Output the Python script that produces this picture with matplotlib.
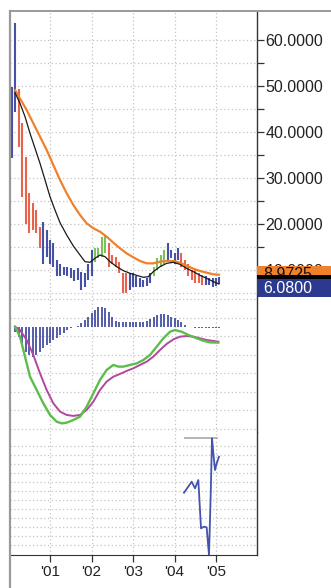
import matplotlib
matplotlib.use("Agg")
import matplotlib.pyplot as plt
import numpy as np
from matplotlib.patches import Rectangle
from matplotlib.lines import Line2D
from matplotlib.transforms import blended_transform_factory

plt.rcParams['font.family'] = ['Liberation Sans', 'DejaVu Sans']

# ---------------- data ----------------
# monthly bars Feb 2000 .. Feb 2005
bar_high = [49.7, 63.6, 49.3, 41.9, 34.6, 26.7, 24.5, 23.0, 19.4, 20.5,
            18.7, 16.5, 15.8, 12.2, 11.4, 10.7, 10.7, 10.4, 10.0, 10.4,
            9.6, 9.3, 11.4, 14.3, 14.7, 14.7, 17.2, 17.6, 15.8, 13.3,
            12.9, 11.8, 9.3, 9.3, 9.3, 9.3, 8.6, 8.2, 7.8, 8.2,
            9.3, 10.7, 12.5, 13.3, 14.3, 15.8, 14.3, 13.6, 14.7, 13.6,
            12.2, 11.4, 10.0, 10.0, 9.3, 8.9, 8.6, 8.2, 8.2, 8.2, 8.4]
bar_low = [34.3, 44.4, 36.8, 25.9, 20.1, 18.0, 18.7, 18.0, 14.7, 11.4,
           12.9, 11.4, 10.7, 8.6, 8.6, 8.9, 8.6, 8.2, 7.5, 7.8,
           5.7, 6.4, 7.8, 8.6, 11.8, 12.5, 12.9, 13.6, 10.7, 11.4,
           10.7, 9.3, 4.9, 4.9, 5.7, 6.4, 6.4, 6.4, 6.2, 6.5,
           7.1, 8.6, 10.0, 10.7, 11.4, 12.2, 12.5, 11.4, 12.2, 10.7,
           10.0, 8.6, 7.8, 7.1, 7.1, 6.7, 6.7, 6.7, 6.4, 6.5, 7.0]
bar_color = ("bb" + "r" * 7 + "b" * 15 + "g" * 4 + "r" * 6 + "b" * 7 +
             "g" * 4 + "b" * 4 + "r" * 7 + "b" * 5)
first_year, first_month = 2000, 2

black_x = [2000.157, 2000.277, 2000.398, 2000.518, 2000.639, 2000.759, 2000.880,
           2001.000, 2001.120, 2001.241, 2001.402, 2001.562, 2001.723, 2001.843,
           2001.964, 2002.084, 2002.205, 2002.325, 2002.446, 2002.606, 2002.767,
           2002.928, 2003.088, 2003.249, 2003.369, 2003.490, 2003.651, 2003.811,
           2003.972, 2004.133, 2004.293, 2004.454, 2004.614, 2004.775, 2004.936,
           2005.072]
black_y = [48.55, 46.23, 43.33, 39.71, 36.45, 33.19, 29.57, 25.94, 23.04, 20.29,
           17.61, 15.22, 13.26, 11.81, 11.67, 12.54, 13.26, 12.90, 11.81, 10.72,
           9.86, 9.28, 8.84, 8.41, 8.55, 9.64, 10.72, 11.45, 11.67, 11.23,
           10.36, 9.64, 8.84, 8.19, 7.46, 6.96]

orange_x = [2000.157, 2000.438, 2000.598, 2000.759, 2000.920, 2001.080, 2001.241,
            2001.402, 2001.562, 2001.723, 2001.884, 2002.044, 2002.205, 2002.365,
            2002.526, 2002.687, 2002.847, 2003.008, 2003.169, 2003.329, 2003.490,
            2003.651, 2003.811, 2003.972, 2004.133, 2004.293, 2004.454, 2004.614,
            2004.775, 2004.936, 2005.072]
orange_y = [49.13, 44.78, 41.88, 38.99, 36.09, 32.83, 29.57, 26.67, 24.13, 21.96,
            20.14, 19.06, 18.33, 17.25, 15.94, 14.71, 13.62, 12.75, 11.96, 11.45,
            11.45, 11.81, 11.96, 11.96, 11.59, 10.94, 10.29, 9.78, 9.42, 9.06, 8.9725]

last_close = 6.08

# MACD panel
macd_x = [2000.157, 2000.277, 2000.398, 2000.518, 2000.679, 2000.839, 2001.000,
          2001.161, 2001.281, 2001.402, 2001.562, 2001.723, 2001.884, 2002.044,
          2002.205, 2002.365, 2002.526, 2002.647, 2002.767, 2002.928, 2003.088,
          2003.249, 2003.410, 2003.570, 2003.731, 2003.892, 2004.012, 2004.173,
          2004.333, 2004.534, 2004.695, 2004.855, 2005.056]
macd_y = [0.00, -0.83, -2.50, -4.17, -5.28, -6.39, -7.36, -7.92, -8.06, -8.00,
          -7.78, -7.50, -6.67, -5.56, -4.44, -3.61, -3.19, -3.33, -3.33, -3.19,
          -3.06, -2.78, -2.36, -1.67, -0.97, -0.42, -0.28, -0.42, -0.69, -0.97,
          -1.17, -1.31, -1.33]
signal_x = [2000.157, 2000.277, 2000.438, 2000.598, 2000.759, 2000.920, 2001.080,
            2001.241, 2001.402, 2001.562, 2001.723, 2001.884, 2002.044, 2002.205,
            2002.365, 2002.526, 2002.687, 2002.847, 2003.008, 2003.169, 2003.329,
            2003.490, 2003.651, 2003.811, 2003.972, 2004.133, 2004.293, 2004.454,
            2004.614, 2004.775, 2004.936, 2005.056]
signal_y = [0.00, -0.28, -1.11, -2.36, -3.89, -5.28, -6.39, -7.08, -7.36, -7.44,
            -7.36, -6.94, -6.25, -5.28, -4.58, -4.17, -3.94, -3.69, -3.47, -3.19,
            -2.92, -2.50, -1.94, -1.44, -1.06, -0.83, -0.78, -0.83, -0.97, -1.11,
            -1.19, -1.25]
hist = [0, -0.42, -0.83, -1.39, -2.08, -2.36, -2.50, -2.36, -2.08, -1.81,
        -1.53, -1.39, -1.11, -0.97, -0.69, -0.50, -0.28, -0.14, 0, 0.06,
        0.28, 0.56, 0.83, 1.11, 1.39, 1.61, 1.67, 1.53, 1.25, 0.83,
        0.50, 0.42, 0.42, 0.36, 0.36, 0.36, 0.36, 0.36, 0.42, 0.50,
        0.61, 0.83, 0.97, 1.06, 1.06, 0.97, 0.83, 0.69, 0.56, 0.36,
        0.14, 0, -0.06, -0.14, -0.14, -0.14, -0.14, -0.14, -0.14, -0.14, -0.08]

# lower indicator panel
ind_x = [2004.229, 2004.414, 2004.494, 2004.574, 2004.639, 2004.711, 2004.775,
         2004.831, 2004.871, 2004.904, 2004.936, 2004.976, 2005.016, 2005.072]
ind_y = [6.81, 8.04, 7.30, 8.22, 2.85, 3.04, 2.96, -0.11, 6.37, 12.85, 11.19,
         9.33, 10.07, 10.81]
ind_max = 12.92
ind_max_span = (2004.229, 2005.056)

year_ticks = [2001, 2002, 2003, 2004, 2005]
year_labels = ["'01", "'02", "'03", "'04", "'05"]

# ---------------- styles ----------------
C_BLUE = '#4650a4'
C_RED = '#e8634d'
C_GREEN = '#7cc15e'
C_ORANGE = '#f0812c'
C_MAGENTA = '#b3479f'
C_MGREEN = '#5cbd4c'
GRID = dict(color='#c4c4c4', linestyle=(0, (1, 2)), linewidth=0.9)
cmap = {'b': C_BLUE, 'r': C_RED, 'g': C_GREEN}

W, H = 331, 588
fig = plt.figure(figsize=(W / 100, H / 100), dpi=100)
fig.patch.set_facecolor('white')

L, R = 10, 257
def add(top, bot):
    return fig.add_axes([L / W, 1 - bot / H, (R - L) / W, (bot - top) / H])

ax1 = add(11, 295)
ax2 = add(295, 432)
ax3 = add(432, 555)

xlim = (2000.036, 2005.988)
for ax in (ax1, ax2, ax3):
    ax.set_xlim(*xlim)
    ax.set_facecolor('white')
    for s in ax.spines.values():
        s.set_visible(False)
    ax.spines['right'].set_visible(True)
    ax.spines['right'].set_color('#333333')
    ax.spines['right'].set_linewidth(1.0)
    for x in year_ticks:
        ax.axvline(x, zorder=0, **GRID)
    ax.tick_params(axis='x', which='both', bottom=False, labelbottom=False)

# ---- price panel ----
ax1.set_ylim(4.565, 66.30)
months = np.arange(len(bar_high))
bx = first_year + (first_month - 1 + months) / 12.0
for y in np.arange(5, 61, 5):
    ax1.axhline(y, zorder=0, **GRID)
ax1.vlines(bx, bar_low, bar_high, colors=[cmap[c] for c in bar_color],
           linewidth=1.5, zorder=3)
ax1.plot(orange_x, orange_y, color=C_ORANGE, lw=1.6, zorder=4)
ax1.plot(black_x, black_y, color='#1a1a1a', lw=0.9, zorder=5)

ax1.yaxis.tick_right()
ax1.set_yticks(np.arange(10, 61, 10))
ax1.set_yticklabels([f"{v:.4f}" for v in np.arange(10, 61, 10)])
ax1.set_yticks(np.arange(15, 56, 10), minor=True)
ax1.tick_params(axis='y', which='major', length=5, width=0.9, color='#333333',
                labelsize=11.5, labelcolor='#222222', pad=1)
ax1.tick_params(axis='y', which='minor', length=5, width=0.9, color='#333333')

# value tags
ppu = (295 - 11) / (66.30 - 4.565)
hh = 9.0 / ppu
tr = blended_transform_factory(ax1.transAxes, ax1.transData)
xr = (W - L) / (R - L)
xt = (263 - L) / (R - L)
tags = [(orange_y[-1], C_ORANGE, '#111111', True),
        (black_y[-1], '#000000', '#ffffff', False),
        (last_close, '#2b3a8f', '#ffffff', True)]
for z, (val, fc, tc, show) in enumerate(tags):
    ax1.add_patch(Rectangle((1.0, val - hh), xr - 1.0, 2 * hh, transform=tr,
                            facecolor=fc, edgecolor='none', clip_on=False,
                            zorder=10 + 2 * z))
    if show:
        ax1.text(xt, val, f"{val:.4f}", transform=tr, ha='left', va='center',
                 fontsize=11.5, color=tc, clip_on=False, zorder=11 + 2 * z)

# ---- MACD panel ----
ax2.set_ylim(-8.78, 2.64)
for y in 0.73 - 1.54 * np.arange(-1, 7):
    ax2.axhline(y, zorder=0, **GRID)
ax2.vlines(bx, 0, hist, colors=C_BLUE, linewidth=1.3, zorder=3)
ax2.plot(signal_x, signal_y, color=C_MAGENTA, lw=1.4, zorder=4)
ax2.plot(macd_x, macd_y, color=C_MGREEN, lw=1.7, zorder=5)
ax2.set_yticks([])

# ---- indicator panel ----
ax3.set_ylim(-0.11, 13.56)
for y in range(1, 13):
    ax3.axhline(y, zorder=0, **GRID)
ax3.hlines(ind_max, ind_max_span[0], ind_max_span[1], color='#a8a8a8', lw=1.2,
           zorder=3)
ax3.plot(ind_x, ind_y, color='#4454ae', lw=1.3, zorder=4)
ax3.set_yticks([])
ax3.spines['bottom'].set_visible(True)
ax3.spines['bottom'].set_color('#333333')
ax3.set_xticks(year_ticks)
ax3.set_xticklabels(year_labels)
ax3.tick_params(axis='x', which='both', bottom=True, labelbottom=True,
                direction='out', length=5, width=0.9, color='#333333',
                labelsize=11, labelcolor='#222222', pad=2)

# outer frame (gray top and left)
fig.add_artist(Line2D([L / W, L / W], [0, 1 - 11 / H], color='#9a9a9a', lw=1.6,
                      transform=fig.transFigure))
fig.add_artist(Line2D([L / W, 1], [1 - 11 / H, 1 - 11 / H], color='#9a9a9a',
                      lw=1.4, transform=fig.transFigure))

fig.savefig('out.png', dpi=100, facecolor='white')
